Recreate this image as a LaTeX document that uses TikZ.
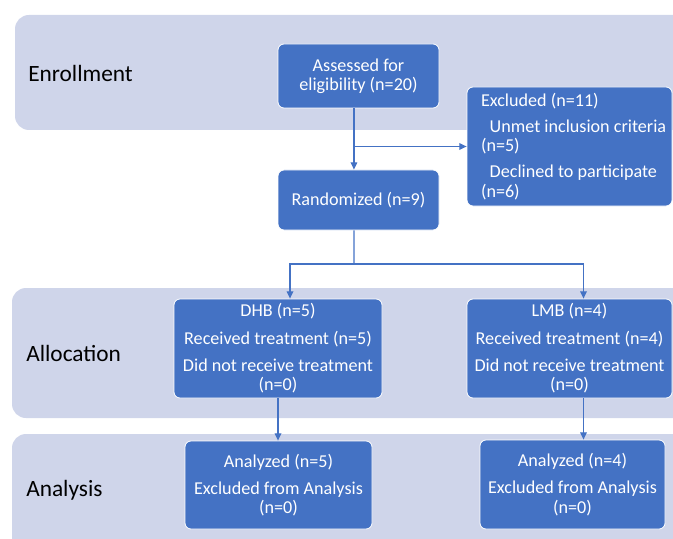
\documentclass[tikz,border=0pt]{standalone}
\usepackage{fontspec}
\setmainfont{Carlito}
\usetikzlibrary{arrows.meta}
\definecolor{boxblue}{HTML}{4472C4}
\definecolor{bandgray}{HTML}{CFD5EA}
\tikzset{
  band/.style={fill=bandgray, rounded corners=10.5pt},
  phase/.style={anchor=west, inner sep=0pt, font=\fontsize{17.5}{21}\selectfont},
  flowbox/.style={draw=white, line width=0.6pt, fill=boxblue, text=white, rounded corners=4.5pt,
    inner sep=0pt, align=center, font=\fontsize{13.6}{14.5}\selectfont},
  arr/.style={draw=boxblue, line width=0.9pt, -{Triangle[length=5.5pt,width=5pt]}},
  link/.style={draw=boxblue, line width=0.9pt},
}
\begin{document}
\begin{tikzpicture}[x=0.75pt,y=-0.75pt]
\useasboundingbox (0,0) rectangle (673,538);
\clip (0,0) rectangle (673,538);
% phase bands
\fill[band] (15,15) rectangle (700,130);
\fill[band] (12,288) rectangle (700,418);
\fill[band] (12,434) rectangle (700,570);
\node[phase] (enroll) at (28,73) {Enrollment};
\node[phase] (alloc) at (26,353) {Allocation};
\node[phase] (analysis) at (26,490) {Analysis};
% boxes
\node[flowbox, minimum width=120.75pt, minimum height=48pt] (assess) at (358.5,76) {Assessed for\\eligibility (n=20)};
\node[flowbox, align=flush left, text width=153.75pt, minimum height=89.25pt] (excl) at (569.5,146.5)
  {\hspace*{10.5pt}Excluded (n=11)\\[5pt]\hspace*{17pt}Unmet inclusion criteria\\\hspace*{10.5pt}(n=5)\\[5pt]\hspace*{17pt}Declined to participate\\\hspace*{10.5pt}(n=6)};
\node[flowbox, minimum width=120.75pt, minimum height=45pt] (rand) at (358.5,200) {Randomized (n=9)};
\node[flowbox, minimum width=156pt, minimum height=74.25pt] (dhb) at (278,348.5)
  {DHB (n=5)\\[6pt]Received treatment (n=5)\\[6pt]Did not receive treatment\\(n=0)};
\node[flowbox, minimum width=153.75pt, minimum height=74.25pt] (lmb) at (569.5,348.5)
  {LMB (n=4)\\[6pt]Received treatment (n=4)\\[6pt]Did not receive treatment\\(n=0)};
\node[flowbox, minimum width=140.25pt, minimum height=66pt] (anl) at (278.5,485)
  {Analyzed (n=5)\\[6pt]Excluded from Analysis\\(n=0)};
\node[flowbox, minimum width=138.75pt, minimum height=66.75pt] (anr) at (572.5,484.5)
  {Analyzed (n=4)\\[6pt]Excluded from Analysis\\(n=0)};
% connectors
\draw[arr] ([xshift=-3.4pt]assess.south) -- ([xshift=-3.4pt]rand.north);
\coordinate (branch) at ([xshift=-3.4pt]assess.south |- excl.west);
\draw[arr] (branch) -- (excl.west);
\coordinate (split) at (354,264);
\draw[link] ([xshift=-3.4pt]rand.south) -- (split);
\draw[arr] (split) -| ([xshift=9pt]dhb.north);
\draw[arr] (split) -| ([xshift=10.5pt]lmb.north);
\draw[arr] (dhb.south) -- (dhb.south |- anl.north);
\draw[arr] ([xshift=10.5pt]lmb.south) -- ([xshift=10.5pt]lmb.south |- anr.north);
\end{tikzpicture}
\end{document}
